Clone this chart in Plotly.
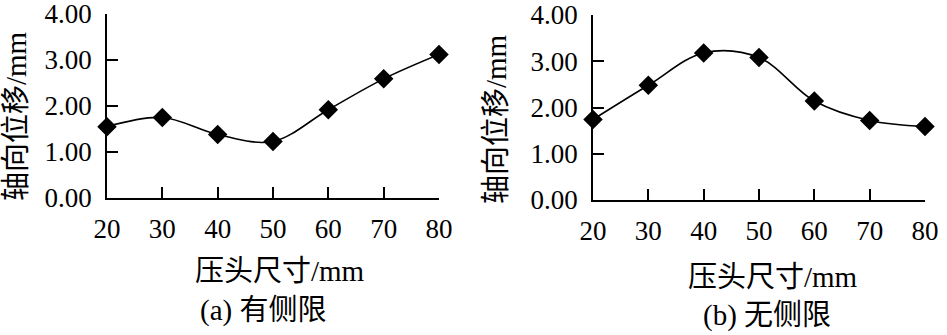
import plotly.graph_objects as go

# Data
indenter_size = [20, 30, 40, 50, 60, 70, 80]
disp_confined = [1.55, 1.75, 1.38, 1.23, 1.92, 2.59, 3.12]      # (a) 有侧限
disp_unconfined = [1.74, 2.48, 3.18, 3.08, 2.14, 1.72, 1.59]    # (b) 无侧限
x_ticks = [20, 30, 40, 50, 60, 70, 80]
y_ticks = [0, 1, 2, 3, 4]
y_title = "轴向位移/mm"
x_title = "压头尺寸/mm"
captions = ["(a) 有侧限", "(b) 无侧限"]

W, H = 947, 335
FONT = "Liberation Serif, Noto Sans CJK SC, serif"

fig = go.Figure()
for i, ys in enumerate([disp_confined, disp_unconfined]):
    fig.add_trace(go.Scatter(
        x=indenter_size, y=ys, mode="lines+markers",
        line=dict(color="black", width=1.6, shape="spline", smoothing=1.0),
        marker=dict(symbol="diamond", size=15, color="black"),
        cliponaxis=False, showlegend=False,
        xaxis="x" if i == 0 else "x2", yaxis="y" if i == 0 else "y2",
    ))

def px_x(p):
    return p / W

def px_y(p):
    return 1 - p / H

axis_common = dict(
    showline=True, linecolor="black", linewidth=1.5,
    ticks="inside", ticklen=11, tickwidth=1.5, tickcolor="black",
    showgrid=False, zeroline=False, mirror=False,
    automargin=False, ticklabeloverflow="allow",
    tickfont=dict(family=FONT, size=27, color="black"),
)
xa = dict(axis_common, range=[20, 80], tickvals=x_ticks, ticklabelstandoff=6)
ya = dict(axis_common, range=[0, 4], tickvals=y_ticks, tickformat=".2f", ticklabelstandoff=8)

fig.update_layout(
    width=W, height=H,
    margin=dict(l=0, r=0, t=0, b=0, autoexpand=False),
    paper_bgcolor="white", plot_bgcolor="white",
    xaxis=dict(xa, domain=[px_x(107), px_x(439)], anchor="y"),
    yaxis=dict(ya, domain=[px_y(198), px_y(14)], anchor="x"),
    xaxis2=dict(xa, domain=[px_x(593), px_x(925)], anchor="y2"),
    yaxis2=dict(ya, domain=[px_y(200), px_y(15)], anchor="x2"),
)

ann = []
# y titles
for cx, cy in [(16, 116), (496, 119)]:
    ann.append(dict(text=y_title, x=px_x(cx), y=px_y(cy), xref="paper", yref="paper",
                    xanchor="center", yanchor="middle", textangle=-90, showarrow=False,
                    font=dict(family=FONT, size=29, color="black")))
# x titles
for cx, cy in [(280, 271), (773, 277)]:
    ann.append(dict(text=x_title, x=px_x(cx), y=px_y(cy), xref="paper", yref="paper",
                    xanchor="center", yanchor="middle", showarrow=False,
                    font=dict(family=FONT, size=29, color="black")))
# captions
for text, (cx, cy) in zip(captions, [(263, 310), (767, 315)]):
    ann.append(dict(text=text, x=px_x(cx), y=px_y(cy), xref="paper", yref="paper",
                    xanchor="center", yanchor="middle", showarrow=False,
                    font=dict(family=FONT, size=29, color="black")))
fig.update_layout(annotations=ann)

fig.write_html(
    "out.html",
    config={"displayModeBar": False},
    post_script="document.body.style.margin='0';document.body.style.overflow='hidden';",
)
